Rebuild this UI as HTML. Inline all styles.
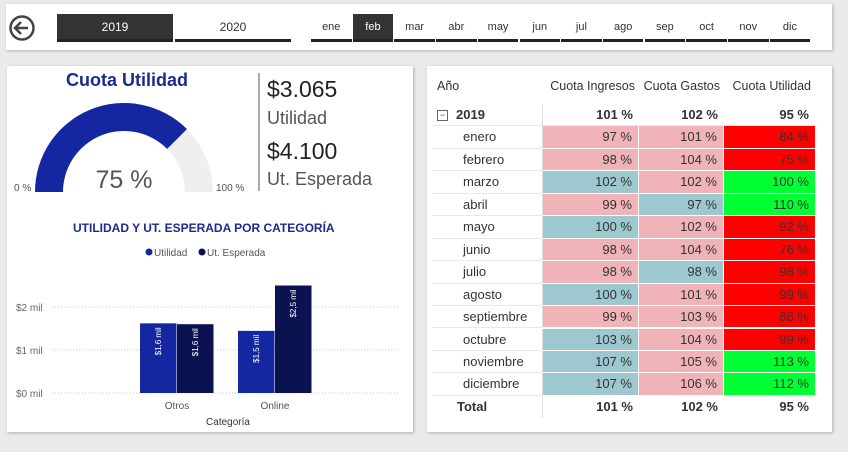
<!DOCTYPE html>
<html><head><meta charset="utf-8"><style>
body{margin:0;width:848px;height:452px;background:#eaeaea;font-family:"Liberation Sans","DejaVu Sans",sans-serif;position:relative;overflow:hidden}
.panel{position:absolute;background:#fff;box-shadow:1px 1px 3px rgba(0,0,0,.25)}
.abs{position:absolute}
.btn{position:absolute;font-size:12px;color:#333;text-align:center;border-bottom:3px solid #222;box-sizing:border-box}
.cell{position:absolute;box-sizing:border-box;text-align:right;padding-right:6px;font-size:13px;color:#333;border-bottom:1px solid #e8e8e8;line-height:22px}
</style></head><body>
<div class="panel" style="left:6px;top:4px;width:826px;height:46px"></div>
<svg class="abs" style="left:8px;top:14px" width="28" height="28" viewBox="0 0 28 28"><circle cx="14" cy="14" r="11.5" fill="none" stroke="#444" stroke-width="2.5"/><path d="M20 14H8M13 8l-6 6 6 6" fill="none" stroke="#444" stroke-width="2.5"/></svg>
<div id="years"></div><div id="months"></div>

<div class="panel" style="left:7px;top:66px;width:406px;height:366px"></div>
<div class="abs" style="left:66px;top:70px;font-size:18px;font-weight:bold;color:#1a2b8f">Cuota Utilidad</div>
<svg class="abs" style="left:0;top:60px" width="260" height="140">
<path id="gbg" fill="#f0efee"/><path id="gfg" fill="#1527a0"/>
<text x="14" y="131" font-size="10" fill="#555">0 %</text>
<text x="216" y="131" font-size="10" fill="#555">100 %</text>
<text x="124" y="128" font-size="25" fill="#555" text-anchor="middle">75 %</text>
</svg>
<div class="abs" style="left:258px;top:73px;width:2px;height:118px;background:#aaa"></div>
<div class="abs" style="left:267px;top:76px;font-size:23px;color:#222">$3.065</div>
<div class="abs" style="left:267px;top:108px;font-size:18px;color:#555">Utilidad</div>
<div class="abs" style="left:267px;top:138px;font-size:23px;color:#222">$4.100</div>
<div class="abs" style="left:267px;top:169px;font-size:18px;color:#555">Ut. Esperada</div>
<div class="abs" style="left:73px;top:221px;font-size:12px;font-weight:bold;color:#1a2b8f">UTILIDAD Y UT. ESPERADA POR CATEGORÍA</div>
<svg class="abs" id="chart" style="left:0;top:240px" width="413" height="192"></svg>

<div class="panel" style="left:427px;top:66px;width:405px;height:366px"></div>
<div id="table"></div>
<script>
const years=['2019','2020'];
const months=['ene','feb','mar','abr','may','jun','jul','ago','sep','oct','nov','dic'];
const gaugePct=0.75;
const categories=['Otros','Online'];
const utilidad=[1.62,1.445];
const esperada=[1.6,2.5];
const utilLabels=['$1,6 mil','$1,5 mil'];
const espLabels=['$1,6 mil','$2,5 mil'];
const yTicks=[0,1,2];
const rowNames=['enero','febrero','marzo','abril','mayo','junio','julio','agosto','septiembre','octubre','noviembre','diciembre'];
const ingresos=[97,98,102,99,100,98,98,100,99,103,107,107];
const gastos=[101,104,102,97,102,104,98,101,103,104,105,106];
const cuotaUtil=[84,75,100,110,92,76,98,99,86,99,113,112];
const totals=[101,102,95];

const yEl=document.getElementById('years');
years.forEach((y,i)=>{const d=document.createElement('div');d.className='btn';


d.style.cssText=`left:${57+i*118}px;top:14px;width:116px;height:28px;line-height:26px;${i==0?'background:#333;color:#fff;':''}`;d.textContent=y;yEl.appendChild(d);});
const mEl=document.getElementById('months');
months.forEach((m,i)=>{const d=document.createElement('div');d.className='btn';


d.style.cssText=`left:${311+i*41.7}px;top:14px;width:40.5px;height:28px;line-height:26px;font-size:11px;${m=='feb'?'background:#333;color:#fff;':''}`;d.textContent=m;mEl.appendChild(d);});

function arc(cx,cy,r0,r1,a0,a1){const p=(r,a)=>[cx+r*Math.cos(a),cy-r*Math.sin(a)];
const A=p(r1,a0),B=p(r1,a1),C=p(r0,a1),D=p(r0,a0);
return `M${A}A${r1},${r1} 0 0 1 ${B}L${C}A${r0},${r0} 0 0 0 ${D}Z`;}
document.getElementById('gbg').setAttribute('d',arc(124,132,61,89,Math.PI,0));
document.getElementById('gfg').setAttribute('d',arc(124,132,61,89,Math.PI,Math.PI*(1-gaugePct)));

const svg=document.getElementById('chart');const NS='http://www.w3.org/2000/svg';
function el(t,a,txt){const e=document.createElementNS(NS,t);for(const k in a)e.setAttribute(k,a[k]);if(txt!=null)e.textContent=txt;svg.appendChild(e);return e;}
const y0=153,pxPer=43;const Y=v=>y0-v*pxPer;
const catX=[177,275];
let e=el('circle',{cx:149,cy:12,r:3.5,fill:'#1527a0'});
e=el('text',{x:154,y:16,'font-size':10,fill:'#555'},'Utilidad');
e=el('circle',{cx:202,cy:12,r:3.5,fill:'#0b1250'});
e=el('text',{x:207,y:16,'font-size':10,fill:'#555'},'Ut. Esperada');
yTicks.forEach(t=>{e=el('line',{x1:52,x2:400,y1:Y(t),y2:Y(t),stroke:'#ccc','stroke-dasharray':'1,2'});
e=el('text',{x:16,y:Y(t)+4,'font-size':10,fill:'#666'},'$'+t+' mil');});
categories.forEach((c,i)=>{const cx=catX[i];
[[utilidad,'#1527a0',utilLabels,-37],[esperada,'#0b1250',espLabels,0]].forEach(([arr,col,lb,off],j)=>{
const x=cx+off;e=el('rect',{x:x,y:Y(arr[i]),width:36.5,height:arr[i]*pxPer,fill:col});

const tx=x+18,ty=Y(arr[i])+4;
e=el('text',{x:0,y:0,'font-size':8,fill:'#fff','text-anchor':'end',transform:`translate(${tx+3},${ty}) rotate(-90)`},lb[i]);});
e=el('text',{x:cx,y:y0+16,'font-size':10,fill:'#555','text-anchor':'middle'},c);});
e=el('text',{x:228,y:y0+32,'font-size':10,fill:'#333','text-anchor':'middle'},'Categoría');

const T=document.getElementById('table');
const colX=[432,543,639,724,815];const top0=104,rh=22.45;
function cell(x,w,y,txt,bg,name,extra){const d=document.createElement('div');d.className='cell';


d.style.cssText=`left:${x}px;top:${y}px;width:${w}px;height:${rh}px;background:${bg||'transparent'};${extra||''}`;d.textContent=txt;T.appendChild(d);return d;}
const hdr=['Cuota Ingresos','Cuota Gastos','Cuota Utilidad'];
cell(432,100,75,'Año',null,'header-ano','text-align:left;padding-left:5px;border:none;font-size:12.5px');
hdr.forEach((h,i)=>cell(colX[i+1]-6,colX[i+2]-colX[i+1]+4,75,h,null,'header-'+h.toLowerCase().replace(/ /g,'-'),'border:none;font-size:12.5px;padding-right:2px;white-space:nowrap'));
cell(432,111,top0,'2019',null,'row-2019','text-align:left;padding-left:24px;font-weight:bold;border-right:1px solid #ddd');
let b=document.createElement('div');
b.style.cssText=`position:absolute;left:437px;top:${top0+6}px;width:9px;height:9px;border:1px solid #666;font-size:9px;line-height:8px;text-align:center;color:#555`;b.textContent='−';T.appendChild(b);
totals.forEach((t,i)=>cell(colX[i+1],colX[i+2]-colX[i+1],top0,t+' %',null,'total-2019','font-weight:bold'));
rowNames.forEach((r,k)=>{const y=top0+rh*(k+1);
cell(432,111,y,r,null,'row-'+r,'text-align:left;padding-left:31px;border-right:1px solid #ddd');
cell(colX[1],colX[2]-colX[1],y,ingresos[k]+' %',ingresos[k]>=100?'#9dc8d0':'#f0b4b8','ingresos-'+r,'border:1px solid #fff;border-width:0 1px 1px 0');
cell(colX[2],colX[3]-colX[2],y,gastos[k]+' %',gastos[k]<=98?'#9dc8d0':'#f0b4b8','gastos-'+r,'border:1px solid #fff;border-width:0 1px 1px 0');
cell(colX[3],colX[4]-colX[3],y,cuotaUtil[k]+' %',cuotaUtil[k]>=100?'#00ff33':'#ff0000','utilidad-'+r,'border:1px solid #fff;border-width:0 0 1px 0');});
const ty=top0+rh*13;
cell(432,111,ty,'Total',null,'total-label','text-align:left;padding-left:25px;font-weight:bold;border:none;border-right:1px solid #ddd');
totals.forEach((t,i)=>cell(colX[i+1],colX[i+2]-colX[i+1],ty,t+' %',null,'grand-total','font-weight:bold;border:none'));
</script>
</body></html>
